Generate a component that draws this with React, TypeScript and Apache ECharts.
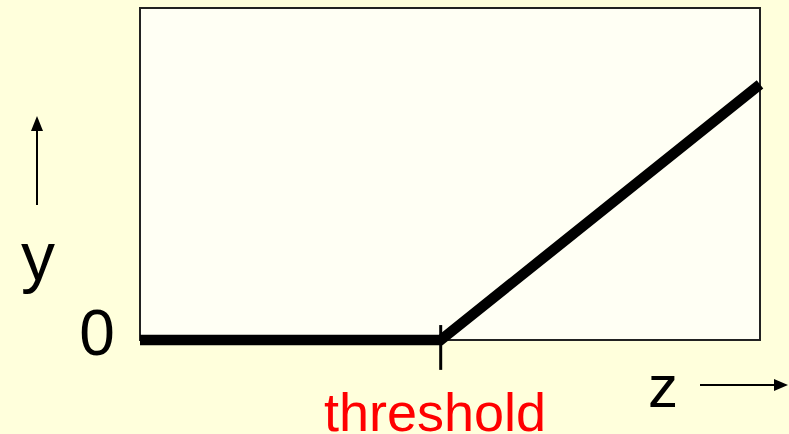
import React, { useEffect, useRef } from "react";
import * as echarts from "echarts";

const responseX: number[] = [0, 4.85, 10];
const responseY: number[] = [0, 0, 7.7];
const thresholdValue = 4.85;
const tickSpan: number[] = [0.45, -0.9];
const labels = { zero: "0", y: "y", z: "z", threshold: "threshold" };

export default function App() {
  const ref = useRef<HTMLDivElement>(null);
  useEffect(() => {
    if (!ref.current) return;
    const chart = echarts.init(ref.current, null, { renderer: "svg" });
    const font = "'Liberation Sans', Arial, sans-serif";
    chart.setOption({
      animation: false,
      backgroundColor: "#FFFFDC",
      grid: {
        show: true,
        left: 140,
        top: 8,
        width: 620,
        height: 332,
        backgroundColor: "#FFFFF4",
        borderColor: "#222",
        borderWidth: 2,
      },
      xAxis: {
        type: "value",
        min: 0,
        max: 10,
        show: false,
      },
      yAxis: {
        type: "value",
        min: 0,
        max: 10,
        show: false,
      },
      series: [
        {
          type: "line",
          data: responseX.map((x, i) => [x, responseY[i]]),
          symbol: "none",
          clip: false,
          lineStyle: { color: "#000", width: 10.5, cap: "butt", join: "miter" },
        },
        {
          type: "line",
          data: tickSpan.map((v) => [thresholdValue, v]),
          symbol: "none",
          clip: false,
          lineStyle: { color: "#000", width: 3 },
        },
      ],
      graphic: [
        { type: "text", x: 97, y: 333, style: { text: labels.zero, font: `64px ${font}`, fill: "#000", align: "center", verticalAlign: "middle" } },
        { type: "text", x: 38, y: 256, style: { text: labels.y, font: `68px ${font}`, fill: "#000", align: "center", verticalAlign: "middle" } },
        { type: "text", x: 663, y: 386, style: { text: labels.z, font: `60px ${font}`, fill: "#000", align: "center", verticalAlign: "middle" } },
        { type: "text", x: 435, y: 412, style: { text: labels.threshold, font: `54px ${font}`, lineHeight: 40, fill: "#FF0000", align: "center", verticalAlign: "middle" } },
        { type: "line", shape: { x1: 37, y1: 205, x2: 37, y2: 128 }, style: { stroke: "#000", lineWidth: 2 } },
        { type: "polygon", shape: { points: [[37, 116], [31, 131], [43, 131]] }, style: { fill: "#000" } },
        { type: "line", shape: { x1: 700, y1: 385, x2: 776, y2: 385 }, style: { stroke: "#000", lineWidth: 2 } },
        { type: "polygon", shape: { points: [[788, 385], [774, 379], [774, 391]] }, style: { fill: "#000" } },
      ],
    });
    return () => chart.dispose();
  }, []);
  return <div ref={ref} style={{ position: "absolute", left: 0, top: 0, width: 789, height: 434 }} />;
}
